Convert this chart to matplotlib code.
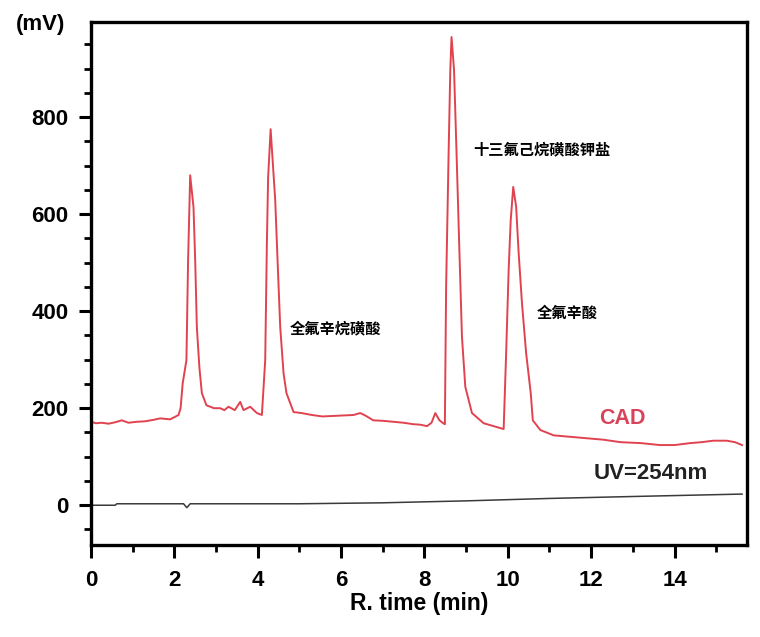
import matplotlib.pyplot as plt
from matplotlib.ticker import MultipleLocator

# CAD trace (time in min, signal in mV)
cad_time = [0.0, 0.12, 0.26, 0.42, 0.58, 0.74, 0.9, 1.1, 1.3, 1.5, 1.66,
            1.9, 2.1, 2.15, 2.2, 2.29, 2.33, 2.38,
            2.46, 2.5, 2.54, 2.6, 2.66, 2.77, 2.95, 3.1, 3.2, 3.3, 3.45,
            3.58, 3.66, 3.82, 3.98, 4.1, 4.18, 4.22, 4.25, 4.31, 4.42, 4.46,
            4.54, 4.62, 4.69, 4.86, 5.05, 5.3, 5.55, 5.81, 6.05, 6.3, 6.46,
            6.6, 6.77, 7.0, 7.25, 7.5, 7.73, 7.9, 8.06, 8.17, 8.26, 8.36,
            8.45, 8.49, 8.52, 8.58, 8.62, 8.65, 8.71, 8.77,
            8.84, 8.9, 8.98, 9.14, 9.42, 9.82, 9.9, 9.96, 10.02, 10.07,
            10.13, 10.2, 10.26, 10.34, 10.44, 10.55, 10.6, 10.78, 11.1,
            11.5, 11.9, 12.3, 12.7, 13.2, 13.65, 14.0, 14.37, 14.65, 14.93,
            15.25, 15.45, 15.62]
cad_mv = [172, 169, 170, 168, 171, 175, 170, 172, 173, 176, 179,
          177, 186, 200, 251, 299, 505, 680,
          614, 505, 367, 285, 231, 206, 200, 200, 196, 203, 196,
          213, 196, 203, 190, 186, 299, 540, 676, 775, 629, 540,
          367, 272, 231, 192, 190, 186, 183, 184, 185, 186, 190,
          184, 175, 174, 172, 170, 167, 166, 163, 170, 190, 175,
          169, 167, 450, 726, 897, 965, 897, 726,
          520, 347, 244, 190, 169, 159, 157, 313, 485, 588,
          656, 615, 520, 416, 313, 231, 175, 155, 144,
          141, 138, 135, 130, 128, 124, 124, 128, 130, 133,
          133, 130, 124]

# UV trace at 254 nm
uv_time = [0.0, 0.58, 0.62, 2.22, 2.3, 2.38, 5.0, 7.0, 9.0, 11.0, 13.0,
           15.62]
uv_mv = [0, 0, 3, 3, -5, 3, 3, 5, 9, 14, 18, 23]

plt.rcParams["font.family"] = "Liberation Sans"
plt.rcParams["font.weight"] = "bold"
plt.rcParams["axes.labelweight"] = "bold"

fig = plt.figure(figsize=(7.6, 6.37), dpi=100)
ax = fig.add_axes([0.1197, 0.1444, 0.8633, 0.8211])

ax.plot(cad_time, cad_mv, color="#e0434f", linewidth=1.4)
ax.plot(uv_time, uv_mv, color="#3a3a3a", linewidth=1.1)

ax.set_xlim(0, 15.74)
ax.set_ylim(-82, 996)
ax.xaxis.set_major_locator(MultipleLocator(2))
ax.xaxis.set_minor_locator(MultipleLocator(1))
ax.yaxis.set_major_locator(MultipleLocator(200))
ax.yaxis.set_minor_locator(MultipleLocator(50))
ax.set_yticks([0, 200, 400, 600, 800])
ax.tick_params(which="major", direction="out", length=9, width=2.2,
               labelsize=16)
ax.tick_params(axis="x", which="major", pad=9)
ax.tick_params(axis="y", which="major", pad=7)
ax.tick_params(which="minor", direction="out", length=5, width=2.0)
for sp in ax.spines.values():
    sp.set_linewidth(2.4)

ax.set_xlabel("R. time (min)", fontsize=16.5, labelpad=1)
fig.text(0.0535, 0.961, "(mV)", ha="center", va="center", fontsize=16)

cjk = ["Noto Sans CJK SC", "DejaVu Sans"]
ax.text(4.78, 365, "全氟辛烷磺酸", fontsize=11, fontweight="bold", family=cjk,
        va="center")
ax.text(9.17, 734, "十三氟己烷磺酸钾盐", fontsize=11, fontweight="bold",
        family=cjk, va="center")
ax.text(10.7, 396, "全氟辛酸", fontsize=11, fontweight="bold", family=cjk,
        va="center")
ax.text(12.2, 179, "CAD", fontsize=15.5, color="#d9435a", va="center")
ax.text(12.05, 66, "UV=254nm", fontsize=16, color="#222222", va="center")

fig.savefig("out.png", dpi=100)
